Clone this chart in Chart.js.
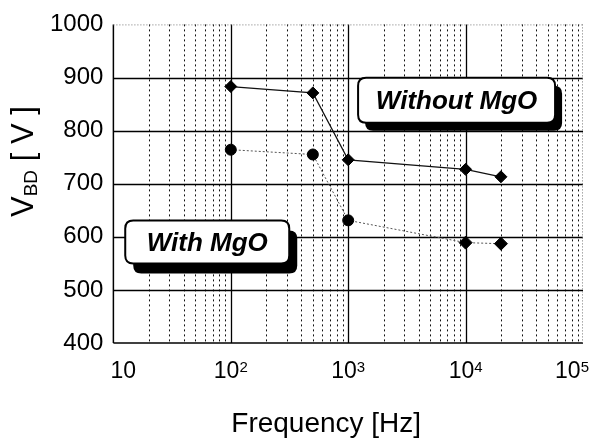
<!DOCTYPE html>
<html>
<head>
<meta charset="utf-8">
<script src="https://cdn.jsdelivr.net/npm/chart.js@4/dist/chart.umd.min.js"></script>
<style>
  html, body { margin: 0; padding: 0; background: #fff; }
  #wrap { width: 593px; height: 444px; }
</style>
</head>
<body>
<div id="wrap"><canvas id="c" width="593" height="444"></canvas></div>
<script>
// Breakdown voltage vs. drive frequency
const frequencies = [100, 500, 1000, 10000, 20000];      // Hz
const vbdWithoutMgO = [883, 871, 745, 727, 713];          // V
const vbdWithMgO = [764, 755, 631, 589, 587];             // V

const xDecades = [10, 100, 1000, 10000, 100000];
const xTickBase = ['10', '10', '10', '10', '10'];
const xTickExponent = ['', '2', '3', '4', '5'];
const yMin = 400, yMax = 1000, yStep = 100;

const seriesNames = ['Without MgO', 'With MgO'];

const FONT = "'Liberation Sans', Arial, Helvetica, sans-serif";

function strokeLine(ctx, x1, y1, x2, y2) {
  ctx.beginPath();
  ctx.moveTo(x1, y1);
  ctx.lineTo(x2, y2);
  ctx.stroke();
}

function roundRect(ctx, x, y, w, h, r) {
  ctx.beginPath();
  ctx.moveTo(x + r, y);
  ctx.lineTo(x + w - r, y);
  ctx.quadraticCurveTo(x + w, y, x + w, y + r);
  ctx.lineTo(x + w, y + h - r);
  ctx.quadraticCurveTo(x + w, y + h, x + w - r, y + h);
  ctx.lineTo(x + r, y + h);
  ctx.quadraticCurveTo(x, y + h, x, y + h - r);
  ctx.lineTo(x, y + r);
  ctx.quadraticCurveTo(x, y, x + r, y);
  ctx.closePath();
}

// Log-decade grid with dashed minor lines, solid major lines
const gridPlugin = {
  id: 'logGrid',
  beforeDatasetsDraw(chart) {
    const { ctx, chartArea: a, scales: { x, y } } = chart;
    ctx.save();

    // minor verticals 2..9 within each decade
    ctx.strokeStyle = '#111';
    ctx.lineWidth = 1;
    ctx.setLineDash([2, 3]);
    for (let i = 0; i < xDecades.length - 1; i++) {
      for (let m = 2; m <= 9; m++) {
        const px = Math.round(x.getPixelForValue(xDecades[i] * m)) + 0.5;
        strokeLine(ctx, px, a.top, px, a.bottom);
      }
    }

    // major verticals at inner decades
    ctx.setLineDash([]);
    ctx.strokeStyle = '#000';
    ctx.lineWidth = 1.3;
    for (let i = 1; i < xDecades.length - 1; i++) {
      const px = Math.round(x.getPixelForValue(xDecades[i])) + 0.5;
      strokeLine(ctx, px, a.top, px, a.bottom);
    }

    // major horizontals
    for (let v = yMin + yStep; v < yMax; v += yStep) {
      const py = Math.round(y.getPixelForValue(v)) + 0.5;
      strokeLine(ctx, a.left, py, a.right, py);
    }

    // left and bottom frame
    ctx.lineWidth = 1.5;
    strokeLine(ctx, a.left, a.top, a.left, a.bottom);
    strokeLine(ctx, a.left, a.bottom, a.right, a.bottom);

    // top and right frame, light dotted
    ctx.strokeStyle = '#777';
    ctx.lineWidth = 1;
    ctx.setLineDash([1, 2]);
    strokeLine(ctx, a.left, a.top + 0.5, a.right, a.top + 0.5);
    strokeLine(ctx, a.right - 0.5, a.top, a.right - 0.5, a.bottom);

    ctx.restore();
  }
};

// Series name boxes placed in data coordinates, plus axis labels and titles
const labelPlugin = {
  id: 'seriesBoxes',
  afterDatasetsDraw(chart) {
    const { ctx, scales: { x, y } } = chart;
    const boxes = [
      { text: seriesNames[0], fx: 8380, vy: 857, w: 197, h: 45, dx: 7, dy: 8 },
      { text: seriesNames[1], fx: 63,   vy: 590, w: 164, h: 43, dx: 8, dy: 10 }
    ];
    ctx.save();
    for (const b of boxes) {
      const cx = x.getPixelForValue(b.fx);
      const cy = y.getPixelForValue(b.vy);
      const left = cx - b.w / 2, top = cy - b.h / 2;
      // drop shadow
      ctx.fillStyle = '#000';
      roundRect(ctx, left + b.dx, top + b.dy, b.w, b.h, 8);
      ctx.fill();
      // box
      ctx.fillStyle = '#fff';
      ctx.strokeStyle = '#000';
      ctx.lineWidth = 2;
      roundRect(ctx, left, top, b.w, b.h, 8);
      ctx.fill();
      ctx.stroke();
      // text
      ctx.fillStyle = '#000';
      ctx.font = 'italic bold 26px ' + FONT;
      ctx.textAlign = 'center';
      ctx.textBaseline = 'alphabetic';
      ctx.fillText(b.text, cx, cy + 9);
    }
    ctx.restore();
  },
  afterDraw(chart) {
    const { ctx, chartArea: a, scales: { x } } = chart;
    ctx.save();
    ctx.fillStyle = '#000';
    ctx.textBaseline = 'alphabetic';
    ctx.textAlign = 'left';

    // x tick labels: powers of ten with raised exponents
    const baseFont = '23px ' + FONT, expFont = '15px ' + FONT;
    const baseline = a.bottom + 35;
    xDecades.forEach((v, i) => {
      ctx.font = baseFont;
      const wb = ctx.measureText(xTickBase[i]).width;
      ctx.font = expFont;
      const we = xTickExponent[i] ? ctx.measureText(xTickExponent[i]).width : 0;
      const total = wb + we;
      let left = x.getPixelForValue(v) - total / 2;
      left = Math.max(left, a.left - 3);
      left = Math.min(left, chart.width - 4 - total);
      ctx.font = baseFont;
      ctx.fillText(xTickBase[i], left, baseline);
      if (xTickExponent[i]) {
        ctx.font = expFont;
        ctx.fillText(xTickExponent[i], left + wb, baseline - 6);
      }
    });

    // x-axis title
    ctx.font = '28px ' + FONT;
    ctx.textAlign = 'center';
    ctx.fillText('Frequency [Hz]', (a.left + a.right) / 2 - 22, 432);

    // y-axis title with subscript, reading bottom to top
    ctx.translate(33, 217);
    ctx.rotate(-Math.PI / 2);
    ctx.textAlign = 'left';
    ctx.font = '31px ' + FONT;
    ctx.fillText('V', 0, 0);
    let off = ctx.measureText('V').width;
    ctx.font = '19px ' + FONT;
    ctx.fillText('BD', off, 4);
    off += ctx.measureText('BD').width;
    ctx.font = '31px ' + FONT;
    ctx.fillText(' [ V ]', off, 0);
    ctx.restore();
  }
};

const ctx = document.getElementById('c').getContext('2d');
new Chart(ctx, {
  type: 'line',
  data: {
    datasets: [
      {
        label: seriesNames[0],
        data: frequencies.map((f, i) => ({ x: f, y: vbdWithoutMgO[i] })),
        borderColor: '#111',
        borderWidth: 1.2,
        backgroundColor: '#000',
        pointBackgroundColor: '#000',
        pointBorderColor: '#000',
        pointStyle: 'rectRot',
        pointRadius: 6,
        pointBorderWidth: 1,
        tension: 0
      },
      {
        label: seriesNames[1],
        data: frequencies.map((f, i) => ({ x: f, y: vbdWithMgO[i] })),
        borderColor: '#555',
        borderWidth: 1,
        borderDash: [2, 2],
        backgroundColor: '#000',
        pointBackgroundColor: '#000',
        pointBorderColor: '#000',
        pointStyle: ['circle', 'circle', 'circle', 'rectRot', 'rectRot'],
        pointRadius: [5.5, 5.5, 5.5, 6.5, 6.5],
        pointBorderWidth: 1,
        tension: 0
      }
    ]
  },
  options: {
    responsive: false,
    animation: false,
    devicePixelRatio: 1,
    clip: false,
    layout: { padding: { left: 40, right: 10, top: 14, bottom: 101 } },
    plugins: {
      legend: { display: false },
      tooltip: { enabled: false },
      title: { display: false }
    },
    scales: {
      x: {
        type: 'logarithmic',
        min: xDecades[0],
        max: xDecades[xDecades.length - 1],
        afterBuildTicks(scale) {
          scale.ticks = xDecades.map(v => ({ value: v }));
        },
        grid: { display: false, drawTicks: false },
        border: { display: false },
        ticks: { display: false }
      },
      y: {
        type: 'linear',
        min: yMin,
        max: yMax,
        grid: { display: false, drawTicks: false },
        border: { display: false },
        ticks: {
          stepSize: yStep,
          padding: 10,
          color: '#000',
          font: { family: FONT, size: 24 },
          callback: (value) => String(value)
        }
      }
    }
  },
  plugins: [gridPlugin, labelPlugin]
});
</script>
</body>
</html>
